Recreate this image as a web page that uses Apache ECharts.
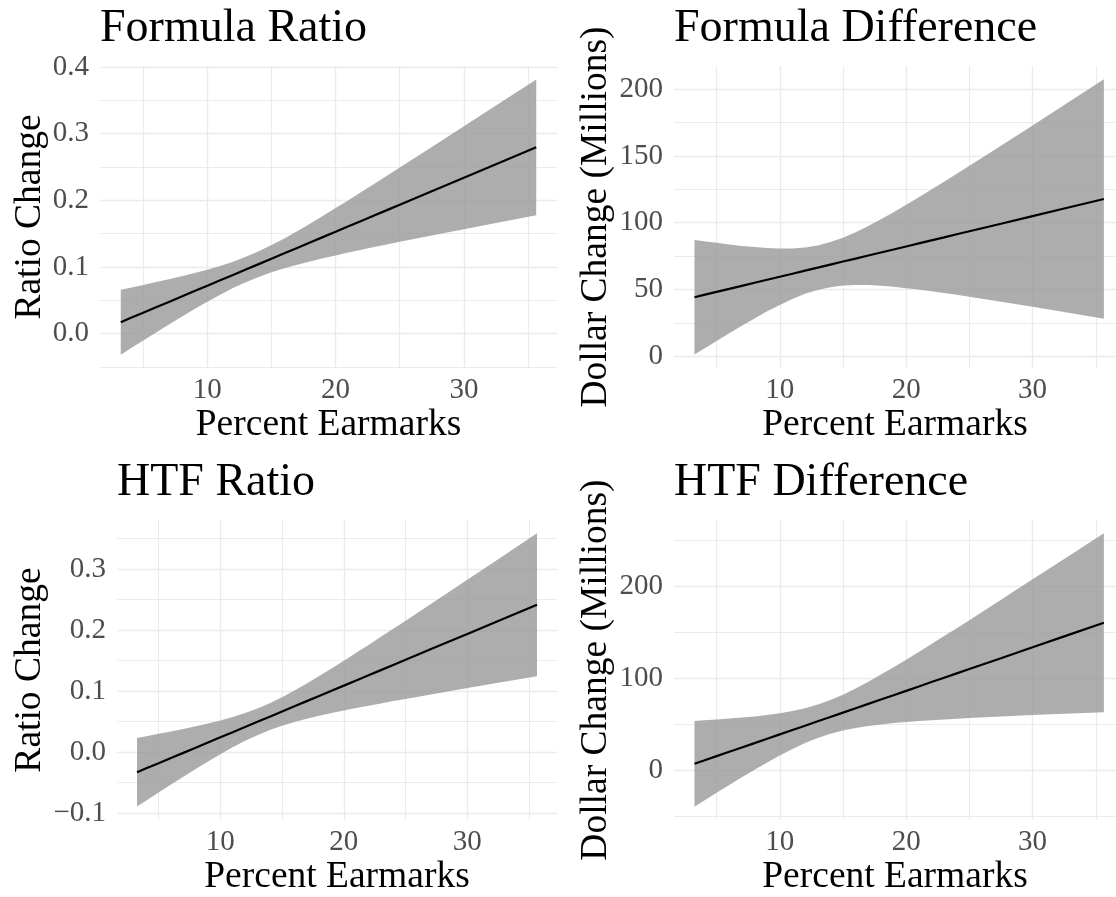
<!DOCTYPE html>
<html>
<head>
<meta charset="utf-8">
<title>Earmarks and formula changes</title>
<script src="https://cdn.jsdelivr.net/npm/echarts@6/dist/echarts.min.js"></script>
<style>
  html, body { margin: 0; padding: 0; background: #fff; }
  #chart { width: 1116px; height: 897px; }
</style>
</head>
<body>
<div id="chart"></div>
<script>
// Percent earmarks at which the fitted line and its confidence band are evaluated
const earmarks = [3.25, 4, 5, 6, 7, 8, 9, 10, 11, 12, 13, 14, 15, 16, 17, 18, 19, 20, 21, 22, 23, 24, 25, 27.5, 30, 32.5, 35.64];

// Formula Ratio
const formulaRatioFit   = [0.0172, 0.0233, 0.0314, 0.0395, 0.0476, 0.0557, 0.0638, 0.0719, 0.0800, 0.0881, 0.0962, 0.1043, 0.1124, 0.1205, 0.1286, 0.1367, 0.1448, 0.1529, 0.1610, 0.1691, 0.1772, 0.1853, 0.1934, 0.2137, 0.2339, 0.2542, 0.2796];
const formulaRatioUpper = [0.0660, 0.0690, 0.0731, 0.0773, 0.0816, 0.0860, 0.0908, 0.0959, 0.1015, 0.1079, 0.1152, 0.1235, 0.1328, 0.1429, 0.1537, 0.1650, 0.1766, 0.1884, 0.2003, 0.2124, 0.2246, 0.2368, 0.2491, 0.2801, 0.3111, 0.3423, 0.3815];
const formulaRatioLower = [-0.0316, -0.0224, -0.0103, 0.0017, 0.0136, 0.0254, 0.0368, 0.0479, 0.0585, 0.0683, 0.0772, 0.0851, 0.0920, 0.0981, 0.1035, 0.1084, 0.1130, 0.1174, 0.1217, 0.1258, 0.1298, 0.1338, 0.1377, 0.1473, 0.1567, 0.1661, 0.1777];

// Formula Difference (millions of dollars)
const formulaDiffFit   = [44.2, 45.9, 48.2, 50.4, 52.7, 55.0, 57.3, 59.5, 61.8, 64.1, 66.3, 68.6, 70.9, 73.1, 75.4, 77.7, 79.9, 82.2, 84.5, 86.8, 89.0, 91.3, 93.6, 99.2, 104.9, 110.6, 117.7];
const formulaDiffUpper = [87.1, 86.1, 84.9, 83.6, 82.6, 81.7, 81.0, 80.6, 80.7, 81.5, 83.0, 85.5, 88.8, 92.8, 97.5, 102.6, 107.8, 113.4, 119.1, 124.9, 130.7, 136.6, 142.6, 157.6, 172.8, 188.1, 207.3];
const formulaDiffLower = [1.3, 5.7, 11.5, 17.2, 22.8, 28.3, 33.6, 38.4, 42.9, 46.7, 49.6, 51.7, 53.0, 53.4, 53.3, 52.8, 52.0, 51.0, 49.9, 48.7, 47.3, 46.0, 44.6, 40.8, 37.0, 33.1, 28.1];

// HTF Ratio
const htfRatioFit   = [-0.0329, -0.0265, -0.0181, -0.0096, -0.0012, 0.0073, 0.0158, 0.0242, 0.0327, 0.0412, 0.0496, 0.0581, 0.0666, 0.0750, 0.0835, 0.0920, 0.1004, 0.1089, 0.1174, 0.1258, 0.1343, 0.1428, 0.1512, 0.1724, 0.1936, 0.2147, 0.2413];
const htfRatioUpper = [0.0232, 0.0261, 0.0299, 0.0338, 0.0378, 0.0422, 0.0468, 0.0518, 0.0574, 0.0639, 0.0714, 0.0801, 0.0900, 0.1008, 0.1124, 0.1245, 0.1369, 0.1497, 0.1626, 0.1756, 0.1888, 0.2020, 0.2153, 0.2487, 0.2823, 0.3159, 0.3584];
const htfRatioLower = [-0.0890, -0.0791, -0.0661, -0.0530, -0.0402, -0.0276, -0.0152, -0.0034, 0.0080, 0.0185, 0.0278, 0.0361, 0.0432, 0.0492, 0.0546, 0.0595, 0.0639, 0.0681, 0.0722, 0.0760, 0.0798, 0.0836, 0.0871, 0.0961, 0.1049, 0.1135, 0.1242];

// HTF Difference (millions of dollars)
const htfDiffFit   = [7.4, 10.9, 15.7, 20.4, 25.1, 29.8, 34.6, 39.3, 44.0, 48.7, 53.5, 58.2, 62.9, 67.6, 72.4, 77.1, 81.8, 86.5, 91.2, 96.0, 100.7, 105.4, 110.1, 121.9, 133.8, 145.6, 160.4];
const htfDiffUpper = [53.9, 54.5, 55.5, 56.4, 57.5, 58.7, 60.3, 62.2, 64.5, 67.6, 71.6, 76.5, 82.3, 89.0, 96.4, 104.1, 112.1, 120.3, 128.7, 137.3, 145.9, 154.5, 163.2, 185.2, 207.4, 229.5, 257.5];
const htfDiffLower = [-39.1, -32.7, -24.1, -15.6, -7.3, 0.9, 8.9, 16.4, 23.5, 29.8, 35.4, 39.9, 43.5, 46.2, 48.4, 50.1, 51.5, 52.7, 53.7, 54.7, 55.5, 56.3, 57.0, 58.6, 60.2, 61.7, 63.3];

// Tick values
const xMajorTicks = [10, 20, 30];
const xMinorTicks = [5, 15, 25, 35];
const ratioMajorTicks = [-0.1, 0, 0.1, 0.2, 0.3, 0.4];
const ratioMinorTicks = [-0.05, 0.05, 0.15, 0.25, 0.35];
const formulaDiffMajorTicks = [0, 50, 100, 150, 200];
const formulaDiffMinorTicks = [25, 75, 125, 175];
const htfDiffMajorTicks = [0, 100, 200];
const htfDiffMinorTicks = [-50, 50, 150, 250];

const titles = ['Formula Ratio', 'Formula Difference', 'HTF Ratio', 'HTF Difference'];
const xTitle = 'Percent Earmarks';
const ratioTitle = 'Ratio Change';
const dollarTitle = 'Dollar Change (Millions)';

const FONT = 'Liberation Serif';
const GRID_COLOR = '#EBEBEB';
const LABEL_COLOR = '#4D4D4D';

const fmtRatio = v => (v < -1e-9 ? '\u2212' : '') + Math.abs(v).toFixed(1);
const fmtDollar = v => (v < 0 ? '\u2212' : '') + Math.abs(Math.round(v));

const panels = [
  { title: titles[0], grid: { left: 100, width: 457, top: 66, height: 302 },
    x: [1.63, 37.26], y: [-0.0516, 0.4016], yMajor: ratioMajorTicks, yMinor: ratioMinorTicks,
    fmt: fmtRatio, yName: ratioTitle, yGap: 51,
    fit: formulaRatioFit, upper: formulaRatioUpper, lower: formulaRatioLower },
  { title: titles[1], grid: { left: 674, right: 0, top: 66, height: 302 },
    x: [1.63, 36.6], y: [-8.8, 217.3], yMajor: formulaDiffMajorTicks, yMinor: formulaDiffMinorTicks,
    fmt: fmtDollar, yName: dollarTitle, yGap: 59,
    fit: formulaDiffFit, upper: formulaDiffUpper, lower: formulaDiffLower },
  { title: titles[2], grid: { left: 117, width: 440, top: 520, height: 302 },
    x: [1.63, 37.26], y: [-0.1113, 0.3801], yMajor: ratioMajorTicks, yMinor: ratioMinorTicks,
    fmt: fmtRatio, yName: ratioTitle, yGap: 68,
    fit: htfRatioFit, upper: htfRatioUpper, lower: htfRatioLower },
  { title: titles[3], grid: { left: 674, right: 0, top: 520, height: 302 },
    x: [1.63, 36.6], y: [-53.7, 271.8], yMajor: htfDiffMajorTicks, yMinor: htfDiffMinorTicks,
    fmt: fmtDollar, yName: dollarTitle, yGap: 59,
    fit: htfDiffFit, upper: htfDiffUpper, lower: htfDiffLower }
];

const option = {
  backgroundColor: '#fff',
  animation: false,
  title: [], grid: [], xAxis: [], yAxis: [], series: []
};

panels.forEach((p, g) => {
  option.title.push({
    text: p.title, left: p.grid.left, top: p.grid.top - 60, padding: 0,
    textStyle: { fontFamily: FONT, fontSize: 46, fontWeight: 'normal', color: '#000' }
  });
  option.grid.push(Object.assign({ containLabel: false }, p.grid));

  const axisBase = (range) => ({
    type: 'value', gridIndex: g, min: range[0], max: range[1],
    axisLine: { show: false }, axisTick: { show: false }
  });

  // major x axis: labels and major grid lines
  option.xAxis.push(Object.assign(axisBase(p.x), {
    position: 'bottom',
    axisTick: { show: false, customValues: xMajorTicks },
    axisLabel: { customValues: xMajorTicks, margin: 8, fontFamily: FONT, fontSize: 29, color: LABEL_COLOR },
    splitLine: { show: true, lineStyle: { color: GRID_COLOR, width: 1.4 } },
    name: xTitle, nameLocation: 'middle', nameGap: 35,
    nameTextStyle: { fontFamily: FONT, fontSize: 37.5, color: '#000' }
  }));
  // minor x axis: minor grid lines only
  option.xAxis.push(Object.assign(axisBase(p.x), {
    position: 'top',
    axisTick: { show: false, customValues: xMinorTicks },
    axisLabel: { show: false },
    splitLine: { show: true, lineStyle: { color: GRID_COLOR, width: 1.1 } }
  }));
  option.yAxis.push(Object.assign(axisBase(p.y), {
    position: 'left',
    axisTick: { show: false, customValues: p.yMajor },
    axisLabel: { customValues: p.yMajor, margin: 11, formatter: p.fmt, fontFamily: FONT, fontSize: 29, color: LABEL_COLOR },
    splitLine: { show: true, lineStyle: { color: GRID_COLOR, width: 1.4 } },
    name: p.yName, nameLocation: 'middle', nameGap: p.yGap, nameRotate: 90,
    nameTextStyle: { fontFamily: FONT, fontSize: 37.5, color: '#000' }
  }));
  option.yAxis.push(Object.assign(axisBase(p.y), {
    position: 'right',
    axisTick: { show: false, customValues: p.yMinor },
    axisLabel: { show: false },
    splitLine: { show: true, lineStyle: { color: GRID_COLOR, width: 1.1 } }
  }));

  // confidence band as one polygon through the upper and lower bounds
  option.series.push({
    type: 'custom', xAxisIndex: 2 * g, yAxisIndex: 2 * g, z: 2, silent: true,
    data: earmarks.map((x, i) => [x, p.lower[i], p.upper[i]]),
    encode: { x: 0, y: [1, 2] },
    renderItem: (params, api) => {
      if (params.dataIndex !== 0) return null;
      const pts = [];
      for (let i = 0; i < earmarks.length; i++) pts.push(api.coord([earmarks[i], p.upper[i]]));
      for (let i = earmarks.length - 1; i >= 0; i--) pts.push(api.coord([earmarks[i], p.lower[i]]));
      return { type: 'polygon', shape: { points: pts }, style: { fill: 'rgba(153,153,153,0.8)' } };
    }
  });
  // fitted line
  option.series.push({
    type: 'line', xAxisIndex: 2 * g, yAxisIndex: 2 * g, z: 3, silent: true,
    showSymbol: false, symbol: 'none',
    data: earmarks.map((x, i) => [x, p.fit[i]]),
    lineStyle: { color: '#000', width: 2.2 }
  });
});

const chart = echarts.init(document.getElementById('chart'), null, { renderer: 'canvas' });
chart.setOption(option);
</script>
</body>
</html>
